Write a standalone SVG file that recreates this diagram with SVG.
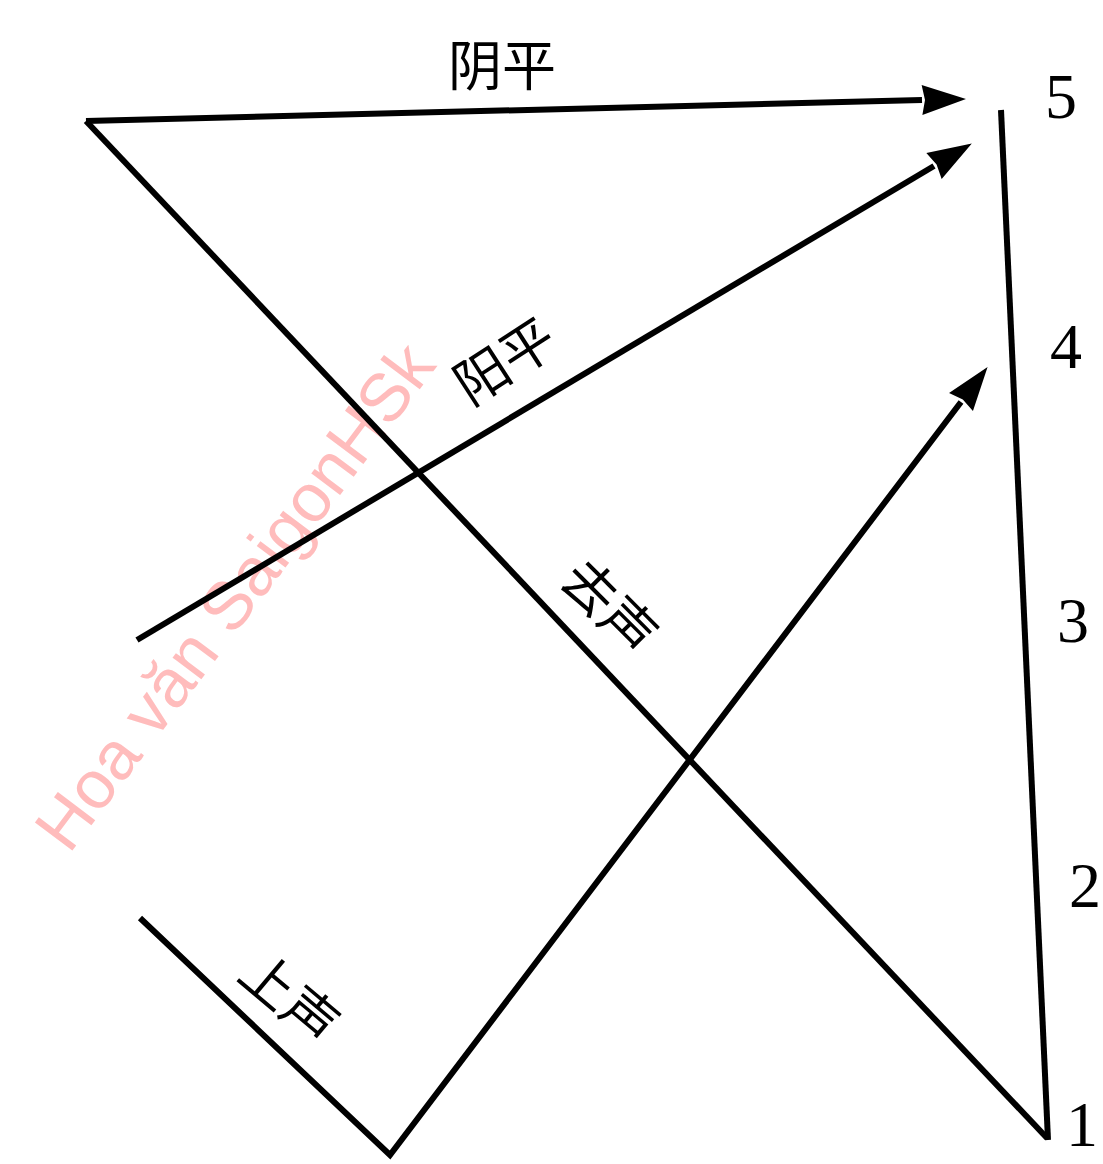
<svg xmlns="http://www.w3.org/2000/svg" width="1103" height="1164" viewBox="0 0 1103 1164">
<style>
.ln{fill:none;stroke:#000;stroke-width:6;stroke-linejoin:miter;stroke-linecap:butt}
.cj{font-family:"Noto Sans CJK SC","Noto Sans CJK TC",sans-serif;font-size:54px;fill:#000;text-anchor:middle;dominant-baseline:central}
.num{font-family:"Liberation Serif",serif;font-size:64px;fill:#000;text-anchor:middle}
.wm{font-family:"Liberation Sans",Arial,sans-serif;font-size:68px;fill:#ffbcbc;text-anchor:middle;dominant-baseline:central}
</style>
<defs>
<marker id="arr" markerUnits="userSpaceOnUse" markerWidth="46" markerHeight="32" refX="0" refY="15" orient="auto" overflow="visible">
<path d="M0,0 L44,15 L0,30 L3,15 z" fill="#000"/>
</marker>
</defs>
<rect width="1103" height="1164" fill="#fff"/>
<text class="wm" transform="translate(234,596) rotate(-53)">Hoa văn SaigonHSk</text>
<g id="scale">
<path class="ln" d="M1001,110 L1048,1140"/>
<text class="num" x="1061" y="118">5</text>
<text class="num" x="1066" y="368">4</text>
<text class="num" x="1073" y="642">3</text>
<text class="num" x="1085" y="907">2</text>
<text class="num" x="1082" y="1146">1</text>
</g>
<g id="connectors">
<path id="yinping" class="ln" d="M86,121 L922,100" marker-end="url(#arr)"/>
<path id="yangping" class="ln" d="M137,640 L934,166" marker-end="url(#arr)"/>
<path id="qusheng" class="ln" d="M86,121 L1047,1138"/>
<path id="shangsheng" class="ln" d="M140,918 L390,1155 L961,402" marker-end="url(#arr)"/>
</g>
<g id="label-yinping"><text class="cj" x="502" y="62">阴平</text></g>
<g id="label-yangping"><text class="cj" transform="translate(503,358) rotate(-33)">阳平</text></g>
<g id="label-qusheng"><text class="cj" font-size="52" transform="translate(612,604) rotate(45)">去声</text></g>
<g id="label-shangsheng"><text class="cj" font-size="50" transform="translate(292,995) rotate(40)">上声</text></g>
</svg>
